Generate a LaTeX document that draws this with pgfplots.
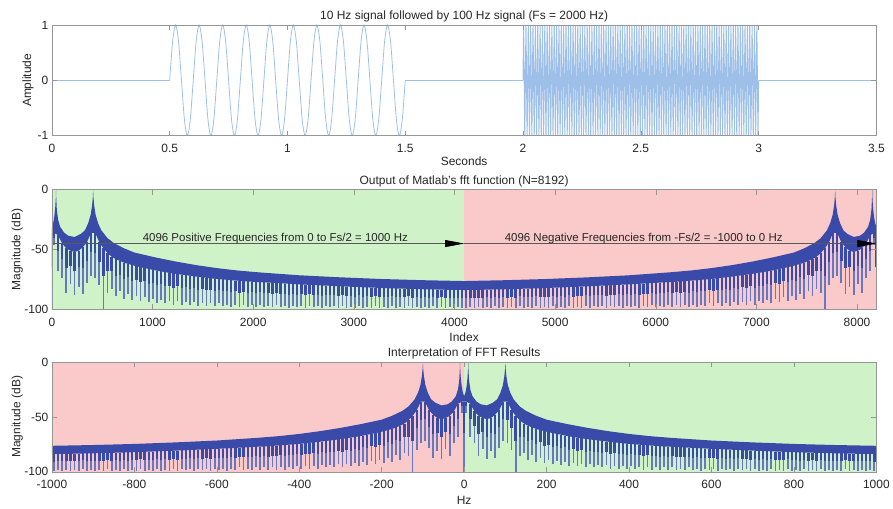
\documentclass[border=0pt]{standalone}
\usepackage{fontspec}
\setmainfont{Liberation Sans}
\usepackage{pgfplots}
\pgfplotsset{compat=1.18}
\usepackage{pgfplotstable}
\usepgfplotslibrary{fillbetween}
\usetikzlibrary{arrows.meta}

\definecolor{sigblue}{RGB}{158,192,232}
\definecolor{bandblue}{RGB}{58,74,168}
\definecolor{teethblue}{RGB}{104,120,192}
\definecolor{bggreen}{RGB}{208,242,200}
\definecolor{bgred}{RGB}{250,201,201}
\definecolor{axgray}{RGB}{150,150,150}
\definecolor{txtgray}{RGB}{38,38,38}

% upper envelope of the magnitude spectrum (dB), positive frequencies (Hz)
\pgfplotstableread{
f U
0 -31
3 -28
6 -22
8 -15
9.3 -8
9.8 -3
10 0
10.2 -3
10.7 -8
12 -17
15 -25
20 -31
30 -36
40 -38.5
55 -39.5
70 -37
80 -34
88 -28
94 -21
97.5 -13
99.3 -6
100 0
100.7 -6
102.5 -13
106 -21
112 -28
120 -34
135 -40.5
150 -44.5
175 -49
200 -52.5
250 -56.5
300 -60
350 -63
400 -65.5
450 -67.5
500 -69
600 -71.5
700 -73.2
800 -74.6
900 -75.6
1000 -76.3
}\upperenv

% lower edge of the solid band (L) and depth of the nulls (B), positive frequencies (Hz)
\pgfplotstableread{
f L B
0 -36 -100
5 -36 -46
15 -38 -68
25 -45 -74
35 -49 -86
45 -51 -79
55 -52 -88
65 -51 -81
75 -48 -87
85 -44 -78
95 -36 -72
105 -36 -74
115 -44 -80
125 -49 -100
135 -53 -86
145 -56 -83
155 -58 -89
165 -59.5 -85
175 -61 -91
185 -62 -87
195 -63 -92
205 -64 -89
215 -64.7 -93
225 -65.5 -90
235 -66.2 -94
245 -67 -91
255 -67.7 -95
265 -68.3 -92
275 -68.9 -95
285 -69.5 -93
295 -70 -96
305 -70.5 -93
315 -71 -96
325 -71.4 -94
335 -71.9 -96
345 -72.4 -94
355 -72.8 -97
365 -73.2 -95
375 -73.6 -97
385 -74 -95
395 -74.4 -97
405 -74.7 -95
415 -75 -97
425 -75.3 -96
435 -75.6 -98
445 -75.9 -96
455 -76.1 -98
465 -76.4 -96
475 -76.6 -98
485 -76.9 -96
495 -77.1 -98
505 -77.2 -96
515 -77.4 -98
525 -77.6 -97
535 -77.8 -98
545 -78 -96
555 -78.2 -98
565 -78.4 -97
575 -78.6 -99
585 -78.8 -97
595 -79 -98
605 -79.1 -97
615 -79.3 -99
625 -79.5 -97
635 -79.6 -98
645 -79.8 -97
655 -80 -99
665 -80.1 -97
675 -80.3 -98
685 -80.5 -97
695 -80.6 -99
705 -80.8 -97
715 -80.9 -99
725 -81.1 -98
735 -81.2 -99
745 -81.3 -97
755 -81.5 -99
765 -81.6 -98
775 -81.8 -99
785 -81.9 -97
795 -82 -99
805 -82.2 -98
815 -82.3 -99
825 -82.4 -97
835 -82.5 -99
845 -82.6 -98
855 -82.7 -99
865 -82.8 -97
875 -82.9 -99
885 -83 -98
895 -83.1 -99
905 -83.2 -98
915 -83.3 -99
925 -83.3 -97
935 -83.4 -99
945 -83.5 -98
955 -83.6 -99
965 -83.6 -98
975 -83.7 -99
985 -83.7 -98
995 -83.8 -99
1000 -83.8 -83.8
}\teeth

\pgfplotsset{
 mlab/.style={
  set layers,
  scale only axis, width=826bp,
  axis line style={axgray, line width=0.6bp},
  every tick/.style={axgray, line width=0.5bp},
  major tick length=5bp,
  tick align=inside,
  font=\fontsize{12bp}{14bp}\selectfont,
  tick label style={txtgray},
  /pgf/number format/assume math mode=true,
  /pgf/number format/1000 sep={},
  scaled ticks=false,
  axis on top,
  every axis title shift=0pt,
  xticklabel style={anchor=base, yshift=-17bp},
  title style={anchor=base, at={(axis description cs:0.5,1)}, yshift=5.5bp, txtgray},
  xlabel style={anchor=base, at={(axis description cs:0.5,0)}, txtgray},
  ylabel style={anchor=center, txtgray},
 },
 % light lower part of each null
 teethlow/.style={draw=none, mark=none, forget plot,
  error bars/.cd, y dir=plus, y explicit, error mark=none,
  error bar style={draw=teethblue, line width=1.7bp, solid}},
 % wider, dark upper part of each null
 teethhigh/.style={draw=none, mark=none, forget plot,
  error bars/.cd, y dir=plus, y explicit, error mark=none,
  error bar style={draw=bandblue, line width=2.4bp, solid}},
}

\begin{document}
\begin{tikzpicture}

% ---------------- top: time signal ----------------
\begin{axis}[mlab, at={(0,0)}, anchor=north west, height=111bp,
  xmin=0, xmax=3.5, ymin=-1, ymax=1,
  xtick={0,0.5,1,1.5,2,2.5,3,3.5}, ytick={-1,0,1},
  title={10 Hz signal followed by 100 Hz signal (Fs = 2000 Hz)},
  xlabel={Seconds}, xlabel style={yshift=-30bp},
  ylabel={Amplitude}, ylabel style={at={(axis description cs:-0.029,0.5)}}]
\addplot[sigblue, line width=0.8bp] coordinates {(0,0) (0.5,0)};
\addplot[sigblue, line width=0.8bp, smooth] coordinates {
(0.5,0)(0.5125,0.707)(0.525,1)(0.5375,0.707)(0.55,0)(0.5625,-0.707)(0.575,-1)(0.5875,-0.707)
(0.6,0)(0.6125,0.707)(0.625,1)(0.6375,0.707)(0.65,0)(0.6625,-0.707)(0.675,-1)(0.6875,-0.707)
(0.7,0)(0.7125,0.707)(0.725,1)(0.7375,0.707)(0.75,0)(0.7625,-0.707)(0.775,-1)(0.7875,-0.707)
(0.8,0)(0.8125,0.707)(0.825,1)(0.8375,0.707)(0.85,0)(0.8625,-0.707)(0.875,-1)(0.8875,-0.707)
(0.9,0)(0.9125,0.707)(0.925,1)(0.9375,0.707)(0.95,0)(0.9625,-0.707)(0.975,-1)(0.9875,-0.707)
(1.0,0)(1.0125,0.707)(1.025,1)(1.0375,0.707)(1.05,0)(1.0625,-0.707)(1.075,-1)(1.0875,-0.707)
(1.1,0)(1.1125,0.707)(1.125,1)(1.1375,0.707)(1.15,0)(1.1625,-0.707)(1.175,-1)(1.1875,-0.707)
(1.2,0)(1.2125,0.707)(1.225,1)(1.2375,0.707)(1.25,0)(1.2625,-0.707)(1.275,-1)(1.2875,-0.707)
(1.3,0)(1.3125,0.707)(1.325,1)(1.3375,0.707)(1.35,0)(1.3625,-0.707)(1.375,-1)(1.3875,-0.707)
(1.4,0)(1.4125,0.707)(1.425,1)(1.4375,0.707)(1.45,0)(1.4625,-0.707)(1.475,-1)(1.4875,-0.707)
(1.5,0)};
\addplot[sigblue, line width=0.8bp] coordinates {(1.5,0) (2,0)};
\addplot[sigblue, line width=1bp] coordinates {(2,0)
(2.0025,1)(2.0075,-1)(2.0125,1)(2.0175,-1)(2.0225,1)(2.0275,-1)(2.0325,1)(2.0375,-1)(2.0425,1)(2.0475,-1)
(2.0525,1)(2.0575,-1)(2.0625,1)(2.0675,-1)(2.0725,1)(2.0775,-1)(2.0825,1)(2.0875,-1)(2.0925,1)(2.0975,-1)
(2.1025,1)(2.1075,-1)(2.1125,1)(2.1175,-1)(2.1225,1)(2.1275,-1)(2.1325,1)(2.1375,-1)(2.1425,1)(2.1475,-1)
(2.1525,1)(2.1575,-1)(2.1625,1)(2.1675,-1)(2.1725,1)(2.1775,-1)(2.1825,1)(2.1875,-1)(2.1925,1)(2.1975,-1)
(2.2025,1)(2.2075,-1)(2.2125,1)(2.2175,-1)(2.2225,1)(2.2275,-1)(2.2325,1)(2.2375,-1)(2.2425,1)(2.2475,-1)
(2.2525,1)(2.2575,-1)(2.2625,1)(2.2675,-1)(2.2725,1)(2.2775,-1)(2.2825,1)(2.2875,-1)(2.2925,1)(2.2975,-1)
(2.3025,1)(2.3075,-1)(2.3125,1)(2.3175,-1)(2.3225,1)(2.3275,-1)(2.3325,1)(2.3375,-1)(2.3425,1)(2.3475,-1)
(2.3525,1)(2.3575,-1)(2.3625,1)(2.3675,-1)(2.3725,1)(2.3775,-1)(2.3825,1)(2.3875,-1)(2.3925,1)(2.3975,-1)
(2.4025,1)(2.4075,-1)(2.4125,1)(2.4175,-1)(2.4225,1)(2.4275,-1)(2.4325,1)(2.4375,-1)(2.4425,1)(2.4475,-1)
(2.4525,1)(2.4575,-1)(2.4625,1)(2.4675,-1)(2.4725,1)(2.4775,-1)(2.4825,1)(2.4875,-1)(2.4925,1)(2.4975,-1)
(2.5025,1)(2.5075,-1)(2.5125,1)(2.5175,-1)(2.5225,1)(2.5275,-1)(2.5325,1)(2.5375,-1)(2.5425,1)(2.5475,-1)
(2.5525,1)(2.5575,-1)(2.5625,1)(2.5675,-1)(2.5725,1)(2.5775,-1)(2.5825,1)(2.5875,-1)(2.5925,1)(2.5975,-1)
(2.6025,1)(2.6075,-1)(2.6125,1)(2.6175,-1)(2.6225,1)(2.6275,-1)(2.6325,1)(2.6375,-1)(2.6425,1)(2.6475,-1)
(2.6525,1)(2.6575,-1)(2.6625,1)(2.6675,-1)(2.6725,1)(2.6775,-1)(2.6825,1)(2.6875,-1)(2.6925,1)(2.6975,-1)
(2.7025,1)(2.7075,-1)(2.7125,1)(2.7175,-1)(2.7225,1)(2.7275,-1)(2.7325,1)(2.7375,-1)(2.7425,1)(2.7475,-1)
(2.7525,1)(2.7575,-1)(2.7625,1)(2.7675,-1)(2.7725,1)(2.7775,-1)(2.7825,1)(2.7875,-1)(2.7925,1)(2.7975,-1)
(2.8025,1)(2.8075,-1)(2.8125,1)(2.8175,-1)(2.8225,1)(2.8275,-1)(2.8325,1)(2.8375,-1)(2.8425,1)(2.8475,-1)
(2.8525,1)(2.8575,-1)(2.8625,1)(2.8675,-1)(2.8725,1)(2.8775,-1)(2.8825,1)(2.8875,-1)(2.8925,1)(2.8975,-1)
(2.9025,1)(2.9075,-1)(2.9125,1)(2.9175,-1)(2.9225,1)(2.9275,-1)(2.9325,1)(2.9375,-1)(2.9425,1)(2.9475,-1)
(2.9525,1)(2.9575,-1)(2.9625,1)(2.9675,-1)(2.9725,1)(2.9775,-1)(2.9825,1)(2.9875,-1)(2.9925,1)(2.9975,-1)
(3,0)};
\addplot[sigblue, line width=0.8bp] coordinates {(3,0) (3.5,0)};
\end{axis}

% ---------------- middle: raw FFT output by index ----------------
\begin{axis}[mlab, at={(0,-165bp)}, anchor=north west, height=120bp,
  xmin=0, xmax=8192, ymin=-100, ymax=0,
  xtick={0,1000,2000,3000,4000,5000,6000,7000,8000}, ytick={-100,-50,0},
  title={Output of Matlab's fft function (N=8192)},
  xlabel={Index}, xlabel style={yshift=-32bp},
  ylabel={Magnitude (dB)}, ylabel style={at={(axis description cs:-0.042,0.5)}}]
\addplot[fill=bggreen, draw=none, on layer=axis background] coordinates {(0,-100) (0,0) (4096,0) (4096,-100)} -- cycle;
\addplot[fill=bgred, draw=none, on layer=axis background] coordinates {(4096,-100) (4096,0) (8192,0) (8192,-100)} -- cycle;
% positive frequencies: index = f*8192/2000
\addplot[teethlow] table[x expr=\thisrow{f}*4.096, y=B, y error plus expr=\thisrow{L}-\thisrow{B}] {\teeth};
\addplot[teethhigh] table[x expr=\thisrow{f}*4.096, y expr=\thisrow{L}-0.45*(\thisrow{L}-\thisrow{B}), y error plus expr=0.45*(\thisrow{L}-\thisrow{B})] {\teeth};
\addplot[draw=none, name path=ua] table[x expr=\thisrow{f}*4.096, y=U] {\upperenv};
\addplot[draw=none, name path=la] table[x expr=\thisrow{f}*4.096, y=L] {\teeth};
\addplot[bandblue] fill between[of=ua and la];
% negative frequencies: index = 8192 - f*8192/2000
\addplot[teethlow] table[x expr=8192-\thisrow{f}*4.096, y=B, y error plus expr=\thisrow{L}-\thisrow{B}] {\teeth};
\addplot[teethhigh] table[x expr=8192-\thisrow{f}*4.096, y expr=\thisrow{L}-0.45*(\thisrow{L}-\thisrow{B}), y error plus expr=0.45*(\thisrow{L}-\thisrow{B})] {\teeth};
\addplot[draw=none, name path=ub] table[x expr=8192-\thisrow{f}*4.096, y=U] {\upperenv};
\addplot[draw=none, name path=lb] table[x expr=8192-\thisrow{f}*4.096, y=L] {\teeth};
\addplot[bandblue] fill between[of=ub and lb];
% annotations
\addplot[black!65, line width=0.6bp, -{Triangle[length=19bp,width=7bp,color=black]}] coordinates {(0,-45) (4096,-45)};
\addplot[black!65, line width=0.6bp, -{Triangle[length=19bp,width=7bp,color=black]}] coordinates {(4096,-45) (8192,-45)};
\node[anchor=base, font=\fontsize{11.5bp}{13bp}\selectfont, txtgray] at (axis cs:2220,-43) {4096 Positive Frequencies from 0 to Fs/2 = 1000 Hz};
\node[anchor=base, font=\fontsize{11.5bp}{13bp}\selectfont, txtgray] at (axis cs:5880,-43) {4096 Negative Frequencies from -Fs/2 = -1000 to 0 Hz};
\end{axis}

% ---------------- bottom: interpretation in Hz ----------------
\begin{axis}[mlab, at={(0,-337.7bp)}, anchor=north west, height=110bp,
  xmin=-1000, xmax=1000, ymin=-100, ymax=0,
  xtick={-1000,-800,-600,-400,-200,0,200,400,600,800,1000}, ytick={-100,-50,0},
  title={Interpretation of FFT Results},
  xlabel={Hz}, xlabel style={yshift=-33bp},
  ylabel={Magnitude (dB)}, ylabel style={at={(axis description cs:-0.042,0.5)}}]
\addplot[fill=bgred, draw=none, on layer=axis background] coordinates {(-1000,-100) (-1000,0) (0,0) (0,-100)} -- cycle;
\addplot[fill=bggreen, draw=none, on layer=axis background] coordinates {(0,-100) (0,0) (1000,0) (1000,-100)} -- cycle;
\addplot[teethlow] table[x=f, y=B, y error plus expr=\thisrow{L}-\thisrow{B}] {\teeth};
\addplot[teethhigh] table[x=f, y expr=\thisrow{L}-0.45*(\thisrow{L}-\thisrow{B}), y error plus expr=0.45*(\thisrow{L}-\thisrow{B})] {\teeth};
\addplot[draw=none, name path=uc] table[x=f, y=U] {\upperenv};
\addplot[draw=none, name path=lc] table[x=f, y=L] {\teeth};
\addplot[bandblue] fill between[of=uc and lc];
\addplot[teethlow] table[x expr=-\thisrow{f}, y=B, y error plus expr=\thisrow{L}-\thisrow{B}] {\teeth};
\addplot[teethhigh] table[x expr=-\thisrow{f}, y expr=\thisrow{L}-0.45*(\thisrow{L}-\thisrow{B}), y error plus expr=0.45*(\thisrow{L}-\thisrow{B})] {\teeth};
\addplot[draw=none, name path=ud] table[x expr=-\thisrow{f}, y=U] {\upperenv};
\addplot[draw=none, name path=ld] table[x expr=-\thisrow{f}, y=L] {\teeth};
\addplot[bandblue] fill between[of=ud and ld];
\end{axis}
\path[use as bounding box] (-52bp,25bp) rectangle (841bp,-483bp);
\end{tikzpicture}
\end{document}
